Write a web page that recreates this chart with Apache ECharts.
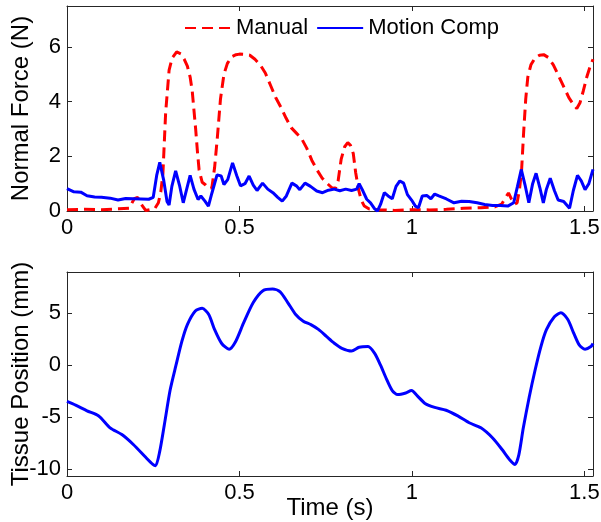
<!DOCTYPE html>
<html>
<head>
<meta charset="utf-8">
<script src="https://cdn.jsdelivr.net/npm/echarts@6/dist/echarts.min.js"></script>
<style>
  html, body { margin: 0; padding: 0; background: #fff; }
  #chart { width: 601px; height: 522px; }
</style>
</head>
<body>
<div id="chart"></div>
<script>
// time axis ticks (s)
const timeTicks = [0, 0.5, 1, 1.5];
const forceTicks = [0, 2, 4, 6];
const posTicks = [-10, -5, 0, 5];

// Manual (red dashed), normal force in N
const manualT = [0, 0.05, 0.1, 0.15, 0.18, 0.195, 0.205, 0.215, 0.228, 0.24, 0.255, 0.265, 0.272, 0.278, 0.286, 0.296, 0.305, 0.318, 0.33, 0.34, 0.349, 0.357, 0.363, 0.368, 0.373, 0.378, 0.383, 0.392, 0.402, 0.412, 0.42, 0.428, 0.436, 0.445, 0.455, 0.465, 0.478, 0.49, 0.5, 0.515, 0.53, 0.545, 0.56, 0.575, 0.59, 0.605, 0.62, 0.635, 0.65, 0.665, 0.68, 0.695, 0.71, 0.725, 0.74, 0.755, 0.768, 0.778, 0.786, 0.795, 0.805, 0.814, 0.822, 0.83, 0.837, 0.845, 0.853, 0.862, 0.875, 0.9, 0.95, 1.0, 1.05, 1.1, 1.15, 1.2, 1.24, 1.26, 1.272, 1.28, 1.288, 1.297, 1.305, 1.312, 1.318, 1.324, 1.33, 1.336, 1.345, 1.357, 1.37, 1.382, 1.395, 1.41, 1.425, 1.44, 1.455, 1.468, 1.478, 1.487, 1.497, 1.507, 1.517, 1.525];
const manualF = [0.05, 0.06, 0.05, 0.08, 0.1, 0.45, 0.5, 0.25, 0.02, 0.05, 0.1, 0.3, 0.7, 1.35, 3.6, 5.15, 5.6, 5.82, 5.75, 5.55, 5.3, 4.9, 4.4, 3.7, 3.0, 2.2, 1.5, 1.05, 0.95, 0.82, 0.85, 1.6, 2.7, 4.1, 5.0, 5.4, 5.65, 5.72, 5.74, 5.73, 5.7, 5.55, 5.35, 5.05, 4.6, 4.15, 3.8, 3.4, 3.05, 2.85, 2.65, 2.3, 1.85, 1.5, 1.2, 1.0, 0.85, 0.82, 1.1, 1.9, 2.35, 2.5, 2.4, 2.1, 1.4, 0.8, 0.4, 0.18, 0.08, 0.05, 0.02, 0.05, 0.04, 0.06, 0.1, 0.12, 0.15, 0.25, 0.5, 0.66, 0.45, 0.25, 0.3, 0.8, 1.5, 2.9, 4.1, 4.9, 5.35, 5.6, 5.7, 5.72, 5.62, 5.35, 4.95, 4.55, 4.15, 3.9, 3.75, 3.95, 4.4, 4.9, 5.3, 5.55];

// Motion Comp (blue solid), normal force in N
const compT = [0, 0.02, 0.04, 0.058, 0.08, 0.1, 0.125, 0.148, 0.17, 0.193, 0.215, 0.237, 0.25, 0.26, 0.269, 0.28, 0.29, 0.296, 0.304, 0.315, 0.326, 0.337, 0.347, 0.357, 0.368, 0.38, 0.388, 0.4, 0.41, 0.42, 0.435, 0.447, 0.455, 0.466, 0.48, 0.492, 0.503, 0.516, 0.528, 0.54, 0.551, 0.567, 0.582, 0.597, 0.611, 0.624, 0.636, 0.652, 0.665, 0.675, 0.69, 0.706, 0.724, 0.741, 0.758, 0.775, 0.791, 0.808, 0.825, 0.84, 0.847, 0.858, 0.869, 0.88, 0.892, 0.9, 0.909, 0.92, 0.931, 0.943, 0.954, 0.965, 0.976, 0.987, 0.999, 1.01, 1.019, 1.03, 1.043, 1.055, 1.066, 1.078, 1.1, 1.122, 1.144, 1.166, 1.189, 1.211, 1.234, 1.256, 1.278, 1.295, 1.306, 1.317, 1.328, 1.339, 1.35, 1.36, 1.371, 1.381, 1.39, 1.401, 1.413, 1.424, 1.44, 1.457, 1.468, 1.48, 1.491, 1.502, 1.513, 1.525];
const compF = [0.82, 0.7, 0.69, 0.56, 0.51, 0.5, 0.47, 0.4, 0.46, 0.45, 0.44, 0.43, 0.5, 1.3, 1.78, 1.15, 0.35, 0.22, 0.9, 1.47, 0.95, 0.3, 0.8, 1.3, 0.8, 0.42, 0.55, 0.36, 0.18, 0.65, 1.32, 1.28, 0.97, 1.15, 1.76, 1.3, 0.92, 1.0, 1.28, 0.95, 0.75, 1.02, 0.8, 0.67, 0.5, 0.36, 0.55, 1.02, 0.92, 0.78, 1.02, 0.9, 0.73, 0.67, 0.76, 0.8, 0.74, 0.8, 0.75, 0.8, 1.0, 0.73, 0.43, 0.3, 0.08, 0.0, 0.24, 0.67, 0.55, 0.45, 0.9, 1.1, 1.02, 0.6, 0.4, 0.18, 0.12, 0.55, 0.57, 0.45, 0.62, 0.55, 0.44, 0.3, 0.36, 0.35, 0.3, 0.24, 0.2, 0.2, 0.18, 0.3, 0.9, 1.52, 0.95, 0.3, 1.0, 1.38, 0.85, 0.3, 0.8, 1.2, 0.75, 0.4, 0.35, 0.1, 0.75, 1.3, 1.1, 0.78, 1.0, 1.52];

// tissue position in mm
const posT = [0, 0.025, 0.058, 0.092, 0.125, 0.159, 0.193, 0.226, 0.249, 0.257, 0.269, 0.282, 0.299, 0.316, 0.333, 0.349, 0.372, 0.392, 0.411, 0.428, 0.448, 0.47, 0.489, 0.512, 0.54, 0.568, 0.596, 0.618, 0.64, 0.663, 0.685, 0.707, 0.73, 0.752, 0.775, 0.797, 0.825, 0.847, 0.873, 0.892, 0.909, 0.926, 0.943, 0.959, 0.982, 0.999, 1.015, 1.038, 1.066, 1.099, 1.133, 1.166, 1.2, 1.234, 1.262, 1.284, 1.299, 1.31, 1.323, 1.34, 1.357, 1.374, 1.39, 1.413, 1.432, 1.452, 1.469, 1.485, 1.502, 1.519, 1.525];
const posMm = [-3.5, -3.86, -4.41, -4.9, -6.05, -6.7, -7.68, -8.82, -9.58, -9.7, -8.3, -5.8, -2.4, 0.0, 2.3, 3.92, 5.23, 5.49, 4.9, 3.43, 2.12, 1.54, 2.29, 4.08, 6.05, 7.19, 7.35, 7.09, 6.05, 4.9, 4.25, 3.92, 3.43, 2.78, 2.12, 1.63, 1.37, 1.73, 1.8, 1.14, 0, -1.31, -2.45, -2.84, -2.68, -2.45, -2.94, -3.69, -4.08, -4.35, -4.9, -5.56, -6.05, -7.03, -8.17, -9.15, -9.58, -8.66, -6.05, -3.1, -0.49, 1.8, 3.43, 4.67, 5.07, 4.41, 3.1, 1.96, 1.54, 1.8, 2.1];

const font = 'Liberation Sans, Arial, Helvetica, sans-serif';
const axisColor = '#262626';

function pairs(xs, ys) {
  return xs.map((x, i) => [x, ys[i]]);
}

function xAxisFor(grid, pos, showLabels, extra) {
  return Object.assign({
    type: 'value', gridIndex: grid, position: pos,
    min: 0, max: 1.525,
    axisLine: {show: true, onZero: false, lineStyle: {color: axisColor, width: 1}},
    axisTick: {show: true, inside: true, length: 5, customValues: timeTicks, lineStyle: {color: axisColor}},
    axisLabel: {show: showLabels, customValues: timeTicks, fontSize: 22, fontFamily: font, color: '#000', margin: 6},
    splitLine: {show: false}
  }, extra || {});
}

function yAxisFor(grid, pos, min, max, ticks, showLabels, extra) {
  return Object.assign({
    type: 'value', gridIndex: grid, position: pos,
    min: min, max: max,
    axisLine: {show: true, onZero: false, lineStyle: {color: axisColor, width: 1}},
    axisTick: {show: true, inside: true, length: 5, customValues: ticks, lineStyle: {color: axisColor}},
    axisLabel: {show: showLabels, customValues: ticks, fontSize: 22, fontFamily: font, color: '#000', margin: 6},
    splitLine: {show: false}
  }, extra || {});
}

const nameStyle = {fontSize: 24, fontFamily: font, color: '#000'};

const yName = (text) => ({
  name: text, nameLocation: 'middle', nameGap: 34,
  nameMoveOverlap: false, nameTruncate: {maxWidth: 400},
  nameTextStyle: nameStyle
});

echarts.init(document.getElementById('chart'), null, {renderer: 'canvas'}).setOption({
  animation: false,
  backgroundColor: '#fff',
  grid: [
    {left: 67, right: 8, top: 6, height: 205, outerBoundsMode: 'none', containLabel: false},
    {left: 67, right: 8, top: 272, height: 204, outerBoundsMode: 'none', containLabel: false}
  ],
  legend: {
    data: ['Manual', 'Motion Comp'],
    left: 184, top: 17, padding: 0,
    itemWidth: 46, itemHeight: 20, itemGap: 8,
    itemStyle: {opacity: 0},
    textStyle: {fontSize: 22, fontFamily: font, color: '#000'}
  },
  xAxis: [
    xAxisFor(0, 'bottom', true),
    xAxisFor(0, 'top', false),
    xAxisFor(1, 'bottom', true, {
      name: 'Time (s)', nameLocation: 'middle', nameGap: 20,
      nameMoveOverlap: false, nameTruncate: {maxWidth: 400},
      nameTextStyle: nameStyle
    }),
    xAxisFor(1, 'top', false)
  ],
  yAxis: [
    yAxisFor(0, 'left', 0, 7.5, forceTicks, true, yName('Normal Force (N)')),
    yAxisFor(0, 'right', 0, 7.5, forceTicks, false),
    yAxisFor(1, 'left', -10.7, 9, posTicks, true, yName('Tissue Position (mm)')),
    yAxisFor(1, 'right', -10.7, 9, posTicks, false)
  ],
  series: [{
    name: 'Manual',
    type: 'line', xAxisIndex: 0, yAxisIndex: 0,
    showSymbol: false, symbol: 'none',
    data: pairs(manualT, manualF),
    lineStyle: {color: '#ff0000', width: 3, type: [11, 6]},
    itemStyle: {color: '#ff0000'}
  }, {
    name: 'Motion Comp',
    type: 'line', xAxisIndex: 0, yAxisIndex: 0,
    showSymbol: false, symbol: 'none',
    data: pairs(compT, compF),
    lineStyle: {color: '#0000ff', width: 3},
    itemStyle: {color: '#0000ff'}
  }, {
    name: 'Tissue Position',
    type: 'line', xAxisIndex: 2, yAxisIndex: 2,
    showSymbol: false, symbol: 'none', smooth: 0.25,
    data: pairs(posT, posMm),
    lineStyle: {color: '#0000ff', width: 3},
    itemStyle: {color: '#0000ff'}
  }]
});
</script>
</body>
</html>
